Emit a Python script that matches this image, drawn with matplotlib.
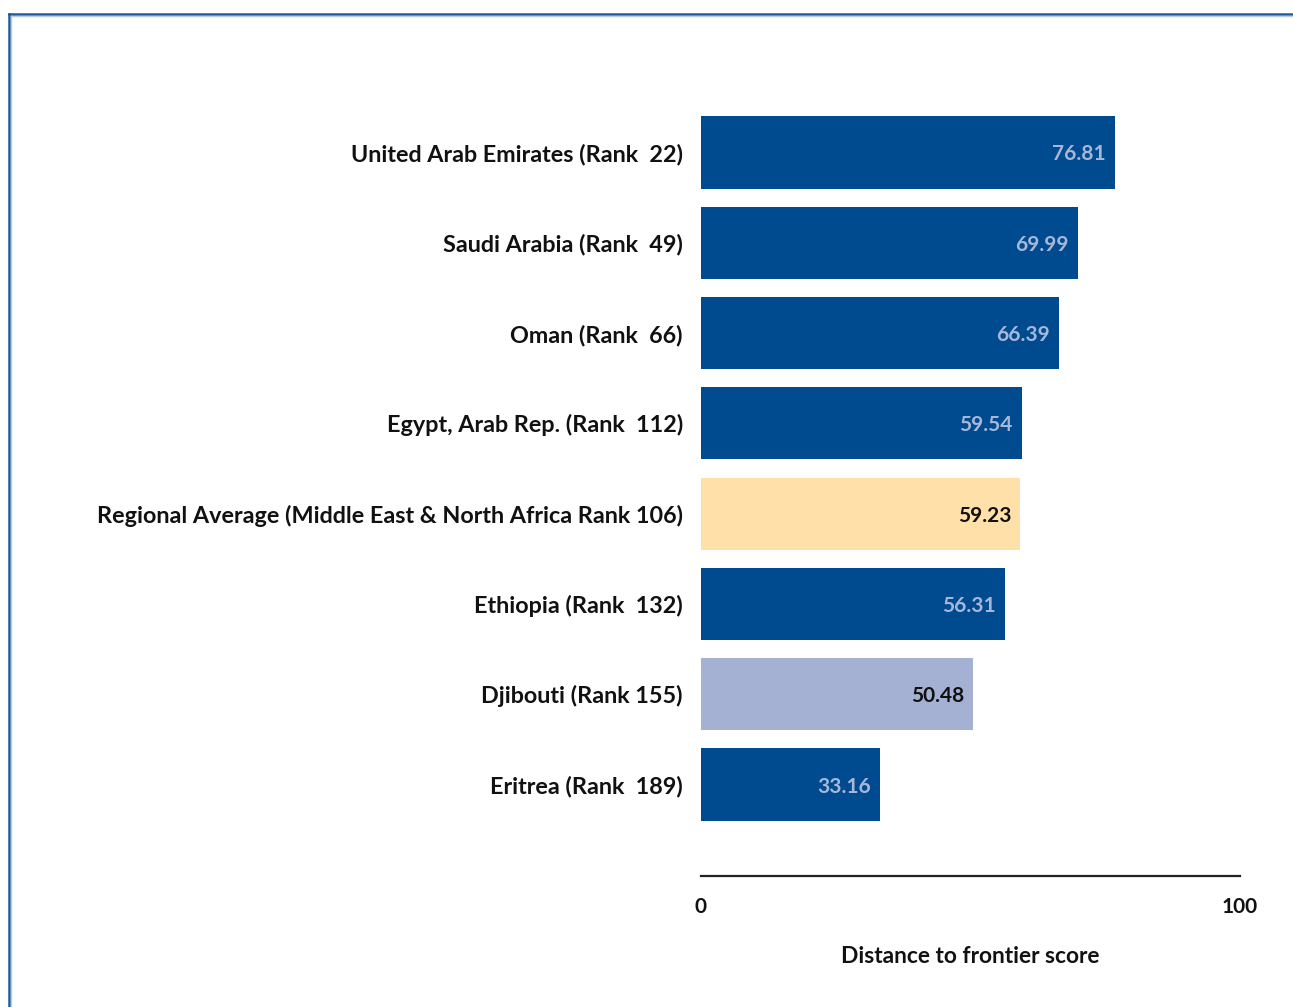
import matplotlib
matplotlib.use("Agg")
import matplotlib.pyplot as plt
from matplotlib.lines import Line2D

labels = ["United Arab Emirates (Rank  22)", "Saudi Arabia (Rank  49)", "Oman (Rank  66)",
          "Egypt, Arab Rep. (Rank  112)", "Regional Average (Middle East & North Africa Rank 106)",
          "Ethiopia (Rank  132)", "Djibouti (Rank 155)", "Eritrea (Rank  189)"]
values = [76.81, 69.99, 66.39, 59.54, 59.23, 56.31, 50.48, 33.16]
kinds = ["c", "c", "c", "c", "avg", "c", "hl", "c"]

colors = {"c": "#004A8F", "avg": "#FFE0A8", "hl": "#A5B1D3"}
textcol = {"c": "#A7B7D8", "avg": "#111111", "hl": "#111111"}

plt.rcParams['font.family'] = ['Lato', 'DejaVu Sans']
W, H = 1293, 1007
fig = plt.figure(figsize=(W/100, H/100), dpi=100)
x0, x1 = 701, 1240
ytop, ybot = 62, 876
ax = fig.add_axes([x0/W, 1 - ybot/H, (x1-x0)/W, (ybot-ytop)/H])

ypos = list(range(len(values)))
for y, v, k in zip(ypos, values, kinds):
    ax.barh(y, v, height=0.8, color=colors[k], edgecolor="none")
    ax.text(v - 1.7, y, f"{v:.2f}", ha="right", va="center_baseline", fontsize=15,
            fontweight="bold", color=textcol[k])

ax.set_xlim(0, 100)
ax.set_ylim(8.013, -1.002)
ax.set_yticks(ypos)
ax.set_yticklabels(labels, fontsize=16.8, fontweight="bold", color="#111111",
                   va="center_baseline")
ax.tick_params(axis="y", length=0, pad=13)
ax.set_xticks([0, 100])
ax.set_xticklabels(["0", "100"], fontsize=15, fontweight="bold", color="#111111")
ax.tick_params(axis="x", length=0, pad=15)
for s in ["top", "right", "left"]:
    ax.spines[s].set_visible(False)
ax.spines["bottom"].set_color("#222222")
ax.spines["bottom"].set_linewidth(1.6)
ax.set_xlabel("Distance to frontier score", fontsize=16.4, fontweight="bold",
              color="#111111", labelpad=21)

# frame border
bx, by = 8.5, 13.5
fig.add_artist(Line2D([bx/W, bx/W], [0, 1 - by/H], color="#1F5A9E", lw=1.8,
                      transform=fig.transFigure))
fig.add_artist(Line2D([bx/W, 1], [1 - by/H, 1 - by/H], color="#1F5A9E", lw=1.8,
                      transform=fig.transFigure))
fig.add_artist(Line2D([(bx+2)/W, (bx+2)/W], [0, 1 - (by+2)/H], color="#B8CCE8", lw=1.0,
                      transform=fig.transFigure))
fig.add_artist(Line2D([(bx+2)/W, 1], [1 - (by+2)/H, 1 - (by+2)/H], color="#B8CCE8", lw=1.0,
                      transform=fig.transFigure))

fig.savefig("out.png", dpi=100)
